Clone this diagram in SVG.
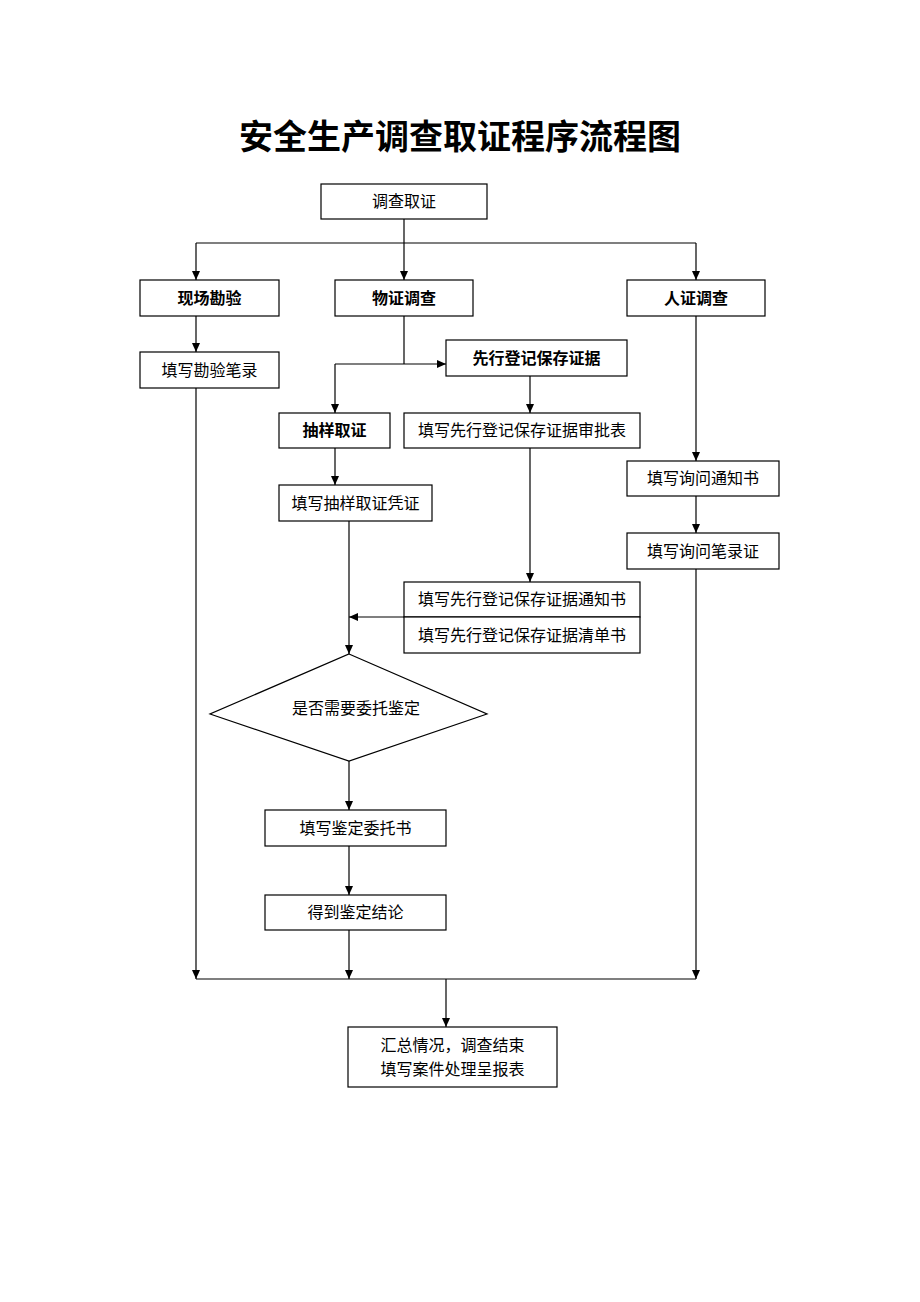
<svg xmlns="http://www.w3.org/2000/svg" width="920" height="1302" viewBox="0 0 920 1302">
<defs>
<marker id="arr" markerWidth="10" markerHeight="10" refX="9" refY="5" orient="auto" markerUnits="userSpaceOnUse">
<path d="M0,1 L9,5 L0,9 Z" fill="#000"/>
</marker>
<style>
.box{fill:#fff;stroke:#000;stroke-width:1.2}
.t{font-family:"Liberation Serif","Noto Sans CJK SC",serif;font-size:16px;fill:#000;text-anchor:middle;dominant-baseline:central}
.b{font-weight:bold}
.ln{fill:none;stroke:#000;stroke-width:1.2}
.title{font-family:"Liberation Serif","Noto Sans CJK SC",serif;font-size:34px;font-weight:bold;text-anchor:middle;fill:#000}
</style>
</defs>
<rect width="920" height="1302" fill="#fff"/>
<text class="title" x="460" y="149">安全生产调查取证程序流程图</text>

<g id="connectors">
<path class="ln" d="M404,219 V243"/>
<path class="ln" d="M196,243 H696"/>
<path class="ln" d="M196,243 V280" marker-end="url(#arr)"/>
<path class="ln" d="M404,243 V280" marker-end="url(#arr)"/>
<path class="ln" d="M696,243 V280" marker-end="url(#arr)"/>
<path class="ln" d="M196,316 V352" marker-end="url(#arr)"/>
<path class="ln" d="M404,316 V364"/>
<path class="ln" d="M335,364 H446" marker-end="url(#arr)"/>
<path class="ln" d="M335,364 V413" marker-end="url(#arr)"/>
<path class="ln" d="M530,376 V413" marker-end="url(#arr)"/>
<path class="ln" d="M530,448 V582" marker-end="url(#arr)"/>
<path class="ln" d="M335,448 V485" marker-end="url(#arr)"/>
<path class="ln" d="M349,521 V654" marker-end="url(#arr)"/>
<path class="ln" d="M404,617 H349" marker-end="url(#arr)"/>
<path class="ln" d="M696,316 V461" marker-end="url(#arr)"/>
<path class="ln" d="M696,496 V533" marker-end="url(#arr)"/>
<path class="ln" d="M696,569 V979" marker-end="url(#arr)"/>
<path class="ln" d="M196,388 V979" marker-end="url(#arr)"/>
<path class="ln" d="M349,761 V810" marker-end="url(#arr)"/>
<path class="ln" d="M349,846 V895" marker-end="url(#arr)"/>
<path class="ln" d="M349,930 V979" marker-end="url(#arr)"/>
<path class="ln" d="M196,979 H696"/>
<path class="ln" d="M446,979 V1027" marker-end="url(#arr)"/>
</g>

<g id="n-diaocha"><rect class="box" x="321" y="184" width="166" height="35"/><text class="t" x="404" y="201.5">调查取证</text></g>
<g id="n-xianchang"><rect class="box" x="140" y="280" width="139" height="36"/><text class="t b" x="209.5" y="298">现场勘验</text></g>
<g id="n-wuzheng"><rect class="box" x="335" y="280" width="138" height="36"/><text class="t b" x="404" y="298">物证调查</text></g>
<g id="n-renzheng"><rect class="box" x="627" y="280" width="138" height="36"/><text class="t b" x="696" y="298">人证调查</text></g>
<g id="n-kanyan"><rect class="box" x="140" y="352" width="139" height="36"/><text class="t" x="209.5" y="370">填写勘验笔录</text></g>
<g id="n-xianxing"><rect class="box" x="446" y="340" width="181" height="36"/><text class="t b" x="536.5" y="358">先行登记保存证据</text></g>
<g id="n-chouyang"><rect class="box" x="279" y="413" width="111" height="35"/><text class="t b" x="334.5" y="430.5">抽样取证</text></g>
<g id="n-shenpi"><rect class="box" x="404" y="413" width="236" height="35"/><text class="t" x="522" y="430.5">填写先行登记保存证据审批表</text></g>
<g id="n-xunwen1"><rect class="box" x="627" y="461" width="152" height="35"/><text class="t" x="703" y="478.5">填写询问通知书</text></g>
<g id="n-xunwen2"><rect class="box" x="627" y="533" width="152" height="36"/><text class="t" x="703" y="551">填写询问笔录证</text></g>
<g id="n-pingzheng"><rect class="box" x="279" y="485" width="153" height="36"/><text class="t" x="355.5" y="503">填写抽样取证凭证</text></g>
<g id="n-tongzhi"><rect class="box" x="404" y="582" width="236" height="35"/><text class="t" x="522" y="599.5">填写先行登记保存证据通知书</text></g>
<g id="n-qingdan"><rect class="box" x="404" y="617" width="236" height="36"/><text class="t" x="522" y="635">填写先行登记保存证据清单书</text></g>
<g id="n-decide"><polygon class="box" points="349,654 487,714 349,761 210,714"/><text class="t" x="356" y="708">是否需要委托鉴定</text></g>
<g id="n-weituo"><rect class="box" x="265" y="810" width="181" height="36"/><text class="t" x="355.5" y="828">填写鉴定委托书</text></g>
<g id="n-jielun"><rect class="box" x="265" y="895" width="181" height="35"/><text class="t" x="355.5" y="912.5">得到鉴定结论</text></g>
<g id="n-huizong"><rect class="box" x="348" y="1027" width="209" height="60"/><text class="t" x="452.5" y="1045">汇总情况，调查结束</text><text class="t" x="452.5" y="1069">填写案件处理呈报表</text></g>
</svg>
